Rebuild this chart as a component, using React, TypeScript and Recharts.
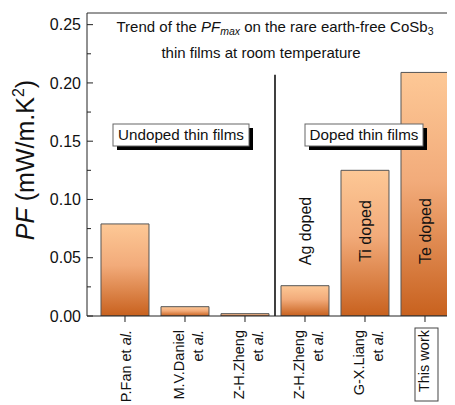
import React from "react";
import {
  BarChart,
  Bar,
  XAxis,
  YAxis,
  ReferenceLine,
  LabelList,
} from "recharts";

const positions = [1, 2, 3, 4, 5, 6];
const authorLines = [
  ["P.Fan et al."],
  ["M.V.Daniel", "et al."],
  ["Z-H.Zheng", "et al."],
  ["Z-H.Zheng", "et al."],
  ["G-X.Liang", "et al."],
  ["This work"],
];
const pfValues = [0.079, 0.008, 0.002, 0.026, 0.125, 0.209];
const dopants = ["", "", "", "Ag doped", "Ti doped", "Te doped"];
const yTicks = [
  0, 0.025, 0.05, 0.075, 0.1, 0.125, 0.15, 0.175, 0.2, 0.225, 0.25,
];

const FONT = "'Liberation Sans', Arial, sans-serif";

const data = positions.map((x, i) => ({
  x,
  pf: pfValues[i],
  dopant: dopants[i],
}));

// renders "et al." with the al. in italic
const renderLine = (line: string) => {
  const idx = line.indexOf("al.");
  if (idx < 0) return line;
  return (
    <>
      {line.slice(0, idx)}
      <tspan fontStyle="italic">al.</tspan>
    </>
  );
};

const YTick = (props: any) => {
  const { x, y, payload } = props;
  const v = payload.value;
  const major = Math.round(v * 1000) % 50 === 0;
  return (
    <g>
      <line x1={x} y1={y} x2={x + (major ? 6 : 4)} y2={y} stroke="#222" />
      {major && (
        <text
          x={x - 6}
          y={y}
          dy="0.35em"
          textAnchor="end"
          fontSize={16}
          fontFamily={FONT}
          fill="#111"
        >
          {v.toFixed(2)}
        </text>
      )}
    </g>
  );
};

const XTick = (props: any) => {
  const { x, y, payload } = props;
  const idx = positions.indexOf(payload.value);
  if (idx < 0) return null;
  const lines = authorLines[idx];
  const ty = y + 14;
  const offsets = lines.length === 1 ? [6] : [-1, 18];
  const boxed = lines[0] === "This work";
  return (
    <g>
      <line x1={x} y1={y} x2={x} y2={y + 6} stroke="#222" />
      {boxed && (
        <rect
          x={x - 10}
          y={ty - 2}
          width={23}
          height={73}
          fill="none"
          stroke="#444"
        />
      )}
      {lines.map((line, i) => (
        <text
          key={i}
          x={x + offsets[i] - (boxed ? 2 : 0)}
          y={ty}
          textAnchor="end"
          fontSize={14.5}
          fontFamily={FONT}
          fill="#111"
          transform={`rotate(-90, ${x + offsets[i] - (boxed ? 2 : 0)}, ${ty})`}
        >
          {renderLine(line)}
        </text>
      ))}
    </g>
  );
};

const DopantLabel = (props: any) => {
  const { x, y, width, height, value } = props;
  if (!value) return null;
  const cx = x + width / 2;
  const cy = y + height - 85;
  return (
    <text
      x={cx}
      y={cy}
      dy="0.35em"
      textAnchor="middle"
      fontSize={16}
      fontFamily={FONT}
      fill="#111"
      transform={`rotate(-90, ${cx}, ${cy})`}
    >
      {value}
    </text>
  );
};

const LegendBox = ({
  x,
  y,
  w,
  text,
}: {
  x: number;
  y: number;
  w: number;
  text: string;
}) => (
  <g>
    <rect x={x + 4} y={y + 4} width={w} height={22} fill="#000" />
    <rect x={x} y={y} width={w} height={22} fill="#fff" stroke="#666" />
    <text
      x={x + w / 2}
      y={y + 16}
      textAnchor="middle"
      fontSize={15.2}
      fontFamily={FONT}
      fill="#111"
    >
      {text}
    </text>
  </g>
);

export default function App() {
  return (
    <div
      style={{
        position: "relative",
        width: 447,
        height: 397,
        overflow: "hidden",
        background: "#fff",
      }}
    >
      <BarChart
        width={450}
        height={397}
        data={data}
        margin={{ top: 5, right: 0, bottom: 0, left: 0 }}
        barSize={48}
      >
        <defs>
          <linearGradient id="barFill" x1="0" y1="0" x2="0" y2="1">
            <stop offset="0%" stopColor="#FDC896" />
            <stop offset="45%" stopColor="#F2AB7A" />
            <stop offset="100%" stopColor="#C8611E" />
          </linearGradient>
        </defs>
        <XAxis
          type="number"
          dataKey="x"
          domain={[0.3667, 6.55]}
          ticks={positions}
          allowDataOverflow
          height={89}
          tickSize={0}
          tickMargin={0}
          tickLine={false}
          axisLine={{ stroke: "#222" }}
          tick={<XTick />}
          interval={0}
        />
        <YAxis
          type="number"
          domain={[0, 0.26]}
          ticks={yTicks}
          allowDataOverflow
          width={79}
          tickSize={0}
          tickMargin={0}
          tickLine={false}
          axisLine={{ stroke: "#222" }}
          tick={<YTick />}
          interval={0}
        />
        <ReferenceLine y={0.26} stroke="#333" />
        <ReferenceLine
          segment={[
            { x: 3.5, y: 0 },
            { x: 3.5, y: 0.207 },
          ]}
          stroke="#000"
          strokeWidth={1.5}
        />
        <Bar
          dataKey="pf"
          fill="url(#barFill)"
          stroke="#555"
          strokeWidth={1}
          isAnimationActive={false}
        >
          <LabelList dataKey="dopant" content={<DopantLabel />} />
        </Bar>
      </BarChart>
      <svg
        width={447}
        height={397}
        style={{ position: "absolute", left: 0, top: 0, pointerEvents: "none" }}
      >
        <text
          x={267}
          y={24}
          textAnchor="middle"
          fontSize={15}
          fontFamily={FONT}
          fill="#111"
        >
          Trend of the <tspan fontStyle="italic">PF</tspan>
          <tspan fontStyle="italic" fontSize={10.5} dy={3}>
            max
          </tspan>
          <tspan dy={-3}> on the rare earth-free CoSb</tspan>
          <tspan fontSize={10.5} dy={3}>
            3
          </tspan>
        </text>
        <text
          x={253}
          y={50}
          textAnchor="middle"
          fontSize={15}
          fontFamily={FONT}
          fill="#111"
        >
          thin films at room temperature
        </text>
        <LegendBox x={105} y={116} w={136} text="Undoped thin films" />
        <LegendBox x={297} y={116} w={118} text="Doped thin films" />
        <text
          x={26}
          y={152}
          textAnchor="middle"
          fontSize={25}
          fontFamily={FONT}
          fill="#111"
          transform="rotate(-90, 26, 152)"
        >
          <tspan fontStyle="italic">PF</tspan> (mW/m.K
          <tspan fontSize={16} dy={-10}>
            2
          </tspan>
          <tspan dy={10}>)</tspan>
        </text>
      </svg>
    </div>
  );
}
